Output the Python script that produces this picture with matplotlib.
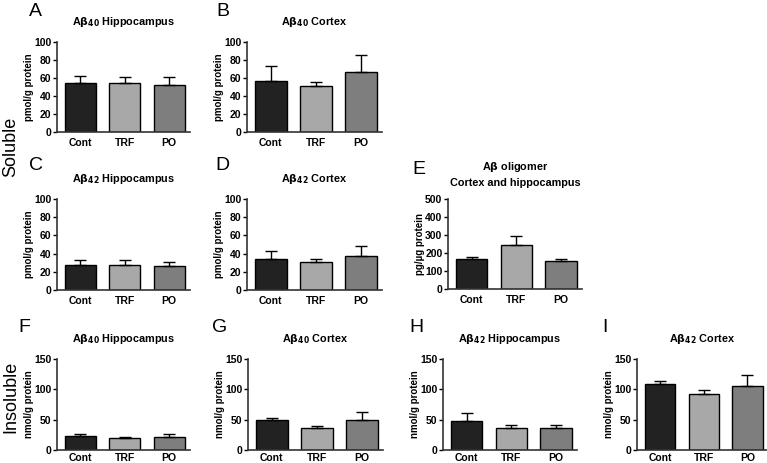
import matplotlib
matplotlib.use("Agg")
import matplotlib.pyplot as plt

plt.rcParams['font.family'] = ['Liberation Sans', 'DejaVu Sans']

groups = ['Cont', 'TRF', 'PO']
colors = ['#222222', '#a8a8a8', '#7e7e7e']

# mean and upper error of each panel
a_mean = [54, 55, 52]
a_err = [8, 6, 9]
b_mean = [57, 51, 67]
b_err = [16, 5, 19]
c_mean = [27, 28, 26]
c_err = [6, 5, 5]
d_mean = [34, 31, 37]
d_err = [9, 3, 11]
e_mean = [168, 245, 158]
e_err = [8, 52, 8]
f_mean = [23, 19, 22]
f_err = [4, 2, 4]
g_mean = [50, 36, 50]
g_err = [2, 4, 12]
h_mean = [48, 36, 36]
h_err = [13, 5, 5]
i_mean = [109, 92, 105]
i_err = [4, 7, 18]

W, H = 767, 463
fig = plt.figure(figsize=(W / 100, H / 100), dpi=100)


def panel(x0, x1, ytop, ybot, mean, err, ymax, step, title, ylabel, letter, lx, ly, tline=None, xpad=4):
    ax = fig.add_axes([x0 / W, (H - ybot) / H, (x1 - x0) / W, (ybot - ytop) / H])
    ax.bar(range(3), mean, width=0.70, color=colors, edgecolor='black', linewidth=1.0,
           yerr=[[0, 0, 0], err], error_kw=dict(ecolor='black', elinewidth=1.0, capsize=4.5, capthick=1.0))
    ax.set_xlim(-0.53, 2.47)
    ax.set_ylim(0, ymax)
    ax.set_yticks(range(0, ymax + 1, step))
    ax.set_xticks(range(3))
    ax.set_xticklabels(groups, fontsize=7.5, fontweight='bold')
    for t in ax.get_yticklabels():
        t.set_fontsize(7.5)
        t.set_fontweight('bold')
    ax.tick_params(axis='x', length=0, pad=xpad)
    ax.tick_params(axis='y', length=3, width=1.0, pad=1)
    for s in ['top', 'right']:
        ax.spines[s].set_visible(False)
    for s in ['left', 'bottom']:
        ax.spines[s].set_linewidth(1.2)
        ax.spines[s].set_color('#333333')
    ax.set_ylabel(ylabel, fontsize=7, fontweight='bold', labelpad=0)
    fig.text((x0 + x1) / 2 / W, 1 - (tline if tline else ytop - 20) / H, title,
             ha='center', va='center', fontsize=7.8, fontweight='bold', linespacing=1.5)
    fig.text(lx / W, 1 - ly / H, letter, ha='center', va='center', fontsize=14)
    return ax


panel(57, 190, 42, 132, a_mean, a_err, 100, 20, r'A$\mathbf{\beta}_{\mathbf{40}}$ Hippocampus', 'pmol/g protein', 'A', 35, 11)
panel(247, 382, 42, 132, b_mean, b_err, 100, 20, r'A$\mathbf{\beta}_{\mathbf{40}}$ Cortex', 'pmol/g protein', 'B', 223, 11)
panel(57, 190, 199, 290, c_mean, c_err, 100, 20, r'A$\mathbf{\beta}_{\mathbf{42}}$ Hippocampus', 'pmol/g protein', 'C', 36, 165)
panel(247, 382, 199, 290, d_mean, d_err, 100, 20, r'A$\mathbf{\beta}_{\mathbf{42}}$ Cortex', 'pmol/g protein', 'D', 222, 165)
panel(448, 582, 199, 289, e_mean, e_err, 500, 100, 'A$\\mathbf{\\beta}$ oligomer\nCortex and hippocampus', 'pg/µg protein', 'E', 419, 169, tline=174)
panel(57, 190, 359, 450, f_mean, f_err, 150, 50, r'A$\mathbf{\beta}_{\mathbf{40}}$ Hippocampus', 'nmol/g protein', 'F', 24, 327, xpad=2)
panel(248, 383, 359, 450, g_mean, g_err, 150, 50, r'A$\mathbf{\beta}_{\mathbf{40}}$ Cortex', 'nmol/g protein', 'G', 220, 327, xpad=2)
panel(443, 577, 359, 450, h_mean, h_err, 150, 50, r'A$\mathbf{\beta}_{\mathbf{42}}$ Hippocampus', 'nmol/g protein', 'H', 416, 327, xpad=2)
panel(637, 768, 359, 450, i_mean, i_err, 150, 50, r'A$\mathbf{\beta}_{\mathbf{42}}$ Cortex', 'nmol/g protein', 'I', 605, 327, xpad=2)

fig.text(11 / W, 1 - 147 / H, 'Soluble', rotation=90, ha='center', va='center', fontsize=13)
fig.text(11 / W, 1 - 397 / H, 'Insoluble', rotation=90, ha='center', va='center', fontsize=13)

fig.savefig('out.png', dpi=100)
